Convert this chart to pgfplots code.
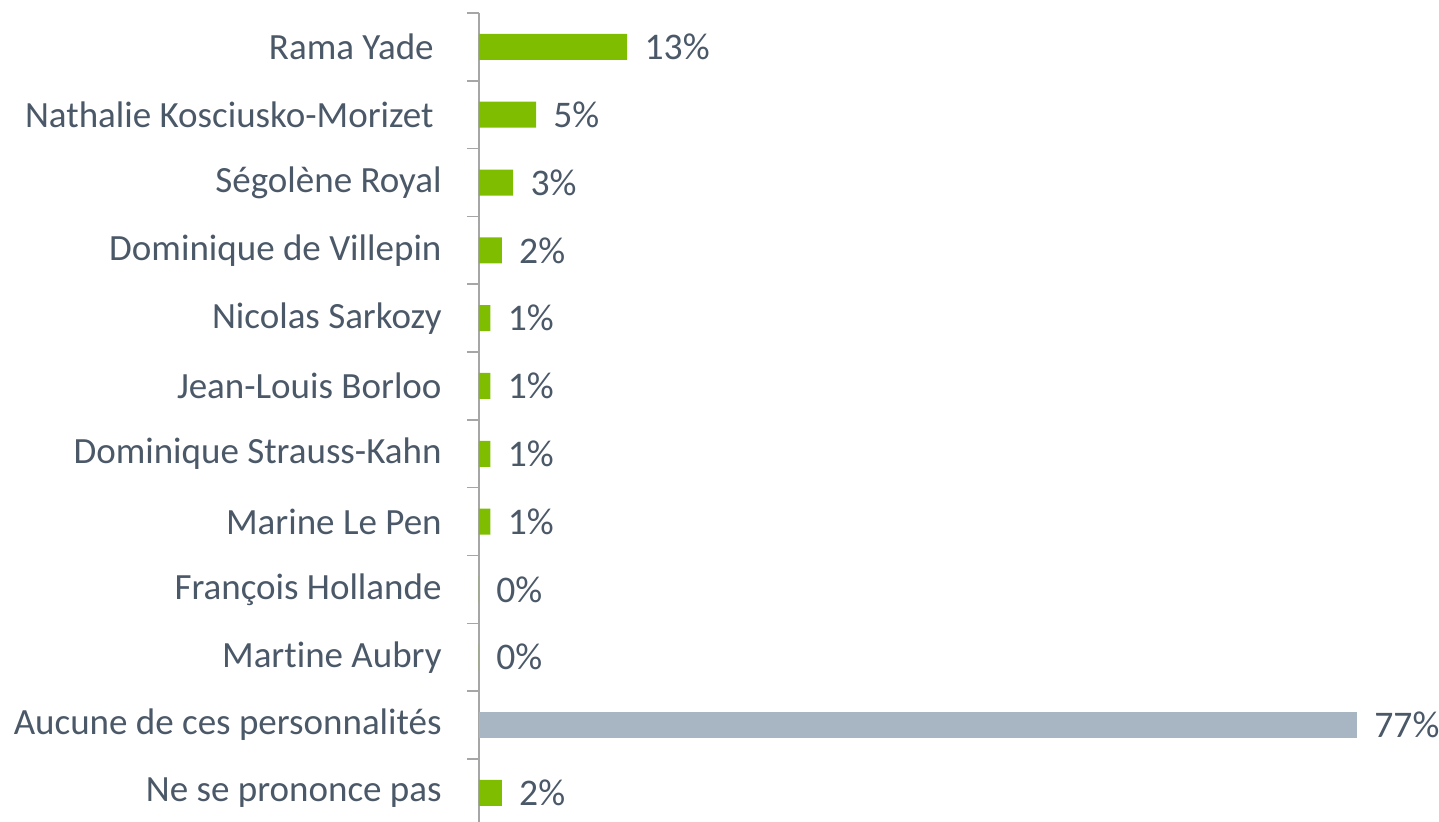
\documentclass[border=0pt]{standalone}
\usepackage{fontspec}
\setmainfont[Ligatures=NoCommon]{Carlito}
\usepackage{pgfplots}
\pgfplotsset{compat=1.18}
\definecolor{barg}{HTML}{7FBD00}
\definecolor{bargray}{HTML}{A7B6C2}
\definecolor{txt}{HTML}{4A5868}
\definecolor{axc}{HTML}{A6A6A6}
\begin{document}
\begin{tikzpicture}
\begin{axis}[
  at={(0,0)}, anchor=south west,
  scale only axis, width=439pt, height=404.5pt,
  xmin=0, xmax=77, ymin=-0.5, ymax=11.43, y dir=reverse,
  hide x axis,
  axis y line*=left,
  y axis line style={axc, line width=0.75pt},
  ytick={0,...,11},
  yticklabels={Rama Yade\kern4pt, Nathalie Kosciusko-Morizet\kern4pt, Ségolène Royal, Dominique de Villepin, Nicolas Sarkozy, Jean-Louis Borloo, Dominique Strauss-Kahn, Marine Le Pen, François Hollande, Mart\kern0pt ine Aubry, Aucune de ces personnalités, Ne se prononce pas},
  major tick length=0pt,
  minor ytick={-0.5,0.5,...,10.5},
  minor tick length=6pt,
  tick align=outside,
  tick style={axc, line width=0.75pt},
  yticklabel style={font=\fontsize{18.5}{22}\selectfont, text=txt, inner sep=0pt, xshift=-18.5pt},
  clip=false,
  point meta=x,
  nodes near coords={\pgfmathprintnumber[assume math mode=true]{\pgfplotspointmeta}\%},
  nodes near coords align=horizontal,
  every node near coord/.style={anchor=west, inner sep=0pt, xshift=8.5pt, font=\fontsize{18.8}{22}\selectfont, text=txt},
]
\addplot[xbar, bar width=13pt, bar shift=0pt, fill=barg, draw=none]
  coordinates {(13,0) (5,1) (3,2) (2,3) (1,4) (1,5) (1,6) (1,7) (0,8) (0,9) (2,11)};
\addplot[xbar, bar width=13pt, bar shift=0pt, fill=bargray, draw=none]
  coordinates {(77,10)};
\end{axis}
\pgfresetboundingbox
\useasboundingbox (-239.5pt,0pt) rectangle (480pt,411pt);
\end{tikzpicture}
\end{document}
